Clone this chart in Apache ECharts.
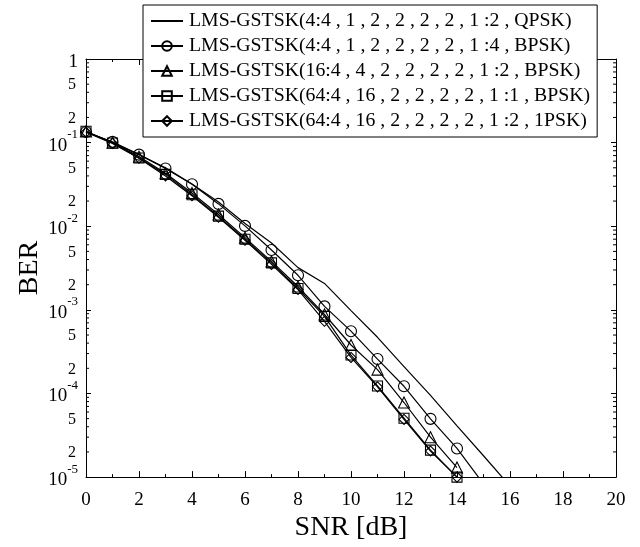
<!DOCTYPE html>
<html>
<head>
<meta charset="utf-8">
<style>
  html, body { margin: 0; padding: 0; background: #fff; }
  #chart { width: 640px; height: 547px; }
</style>
<script src="https://cdn.jsdelivr.net/npm/echarts@6/dist/echarts.min.js"></script>
</head>
<body>
<div id="chart"></div>
<script>
// SNR grid in dB
const snr = [0, 1, 2, 3, 4, 5, 6, 7, 8, 9, 10, 11, 12, 13, 14, 15, 16];

// Series names as shown in the legend
const names = [
  'LMS-GSTSK(4:4 , 1 , 2 , 2 , 2 , 2 , 1 :2 , QPSK)',
  'LMS-GSTSK(4:4 , 1 , 2 , 2 , 2 , 2 , 1 :4 , BPSK)',
  'LMS-GSTSK(16:4 , 4 , 2 , 2 , 2 , 2 , 1 :2 , BPSK)',
  'LMS-GSTSK(64:4 , 16 , 2 , 2 , 2 , 2 , 1 :1 , BPSK)',
  'LMS-GSTSK(64:4 , 16 , 2 , 2 , 2 , 2 , 1 :2 , 1PSK)'
];

// Bit error rate per SNR point
const berQpsk = [0.135, 0.1, 0.072, 0.05, 0.032, 0.0195, 0.0108, 0.0063, 0.0032, 0.00207, 0.00098, 0.00047, 0.00021, 0.000095, 0.000041, 0.000018, 0.0000078];
const berBpsk4 = [0.134, 0.102, 0.0718, 0.049, 0.0318, 0.0185, 0.0101, 0.0052, 0.00259, 0.0011, 0.000556, 0.000258, 0.000122, 0.0000497, 0.000022, 0.0000083];
const berBpsk16 = [0.136, 0.1, 0.068, 0.043, 0.025, 0.0138, 0.0073, 0.0038, 0.0019, 0.00088, 0.00038, 0.000193, 0.000078, 0.00003, 0.000013];
const berBpsk64 = [0.137, 0.099, 0.0656, 0.0417, 0.0238, 0.0132, 0.0070, 0.00365, 0.0018, 0.000836, 0.000288, 0.000123, 0.0000506, 0.000021, 0.00001];
const ber1psk64 = [0.133, 0.098, 0.065, 0.040, 0.0232, 0.0128, 0.0068, 0.0035, 0.00175, 0.00073, 0.00027, 0.00012, 0.000049, 0.0000205, 0.00001];

// Log-axis decades and the intermediate tick mantissas
const decades = [-5, -4, -3, -2, -1];
const minorMantissas = [2, 3, 4, 5, 6, 7, 8, 9];
const labelledMantissas = [2, 5];

const FONT = 'Liberation Serif';

function pairs(ys) {
  return ys.map((y, i) => [snr[i], y]);
}

const minorData = [];
decades.forEach(k => minorMantissas.forEach(m => minorData.push([0, m * Math.pow(10, k), m])));

function lineSeries(name, data, symbol) {
  return {
    name: name,
    type: 'line',
    data: pairs(data),
    symbol: symbol,
    symbolSize: symbol === 'circle' ? 11 : (symbol === 'triangle' ? 11 : 10),
    showSymbol: symbol !== 'none',
    clip: true,
    lineStyle: { color: '#000', width: 1.2 },
    itemStyle: { color: 'rgba(0,0,0,0)', borderColor: '#000', borderWidth: 1.1 },
    emphasis: { disabled: true },
    z: 3
  };
}

// legend entries; the plain line entry carries no marker
const legendData = names.map((n, i) => i === 0
  ? { name: n, itemStyle: { color: 'rgba(0,0,0,0)', borderColor: 'rgba(0,0,0,0)', borderWidth: 0 } }
  : { name: n });

const chart = echarts.init(document.getElementById('chart'), null, { renderer: 'canvas' });

const option = {
  backgroundColor: '#fff',
  animation: false,
  textStyle: { fontFamily: FONT },
  grid: { left: 86, right: 24, top: 59, bottom: 64, containLabel: false },
  legend: {
    data: legendData,
    orient: 'vertical',
    left: 143,
    top: 5,
    padding: [6, 7, 6, 7],
    itemGap: 5,
    itemWidth: 32,
    itemHeight: 12,
    backgroundColor: '#fff',
    borderColor: '#000',
    borderWidth: 1,
    borderRadius: 0,
    selectedMode: false,
    textStyle: { fontFamily: FONT, fontSize: 19.8, color: '#000', lineHeight: 20, padding: [0, 0, 0, 1] },
    z: 10
  },
  xAxis: [{
    type: 'value',
    min: 0, max: 20, interval: 2,
    name: 'SNR [dB]',
    nameLocation: 'middle',
    nameGap: 33,
    nameTextStyle: { fontFamily: FONT, fontSize: 28, color: '#000' },
    axisLine: { onZero: false, lineStyle: { color: '#000', width: 1 } },
    axisTick: { inside: true, length: 6, lineStyle: { color: '#000' } },
    minorTick: { show: true, splitNumber: 2, length: 3, lineStyle: { color: '#000' } },
    splitLine: { show: false },
    axisLabel: { fontFamily: FONT, fontSize: 19, color: '#000', margin: 13 }
  }, {
    type: 'value',
    position: 'top',
    min: 0, max: 20, interval: 2,
    axisLine: { onZero: false, lineStyle: { color: '#000', width: 1 } },
    axisTick: { inside: true, length: 6, lineStyle: { color: '#000' } },
    minorTick: { show: true, splitNumber: 2, length: 3, lineStyle: { color: '#000' } },
    splitLine: { show: false },
    axisLabel: { show: false }
  }],
  yAxis: [{
    type: 'log',
    logBase: 10,
    min: 1e-5, max: 1,
    name: 'BER',
    nameLocation: 'middle',
    nameGap: 42,
    nameMoveOverlap: false,
    nameRotate: 90,
    nameTextStyle: { fontFamily: FONT, fontSize: 28, color: '#000' },
    axisLine: { onZero: false, lineStyle: { color: '#000', width: 1 } },
    axisTick: { inside: true, length: 5, lineStyle: { color: '#000' } },
    splitLine: { show: false },
    axisLabel: {
      margin: 8,
      formatter: function (v) {
        const k = Math.round(Math.log10(v));
        if (k === 0) return '{b|1}';
        return '{b|10}{s|' + k + '}';
      },
      rich: {
        b: { fontFamily: FONT, fontSize: 19, color: '#000', padding: [6, 0, 0, 0] },
        s: { fontFamily: FONT, fontSize: 13, color: '#000', padding: [0, 0, 16, 0] }
      }
    }
  }, {
    type: 'log',
    logBase: 10,
    position: 'right',
    min: 1e-5, max: 1,
    axisLine: { onZero: false, lineStyle: { color: '#000', width: 1 } },
    axisTick: { inside: true, length: 5, lineStyle: { color: '#000' } },
    splitLine: { show: false },
    axisLabel: { show: false }
  }],
  series: [
    lineSeries(names[0], berQpsk, 'none'),
    lineSeries(names[1], berBpsk4, 'circle'),
    lineSeries(names[2], berBpsk16, 'triangle'),
    lineSeries(names[3], berBpsk64, 'rect'),
    lineSeries(names[4], ber1psk64, 'diamond'),
    {
      // intermediate log ticks on both vertical axes plus the 2 / 5 labels
      type: 'custom',
      silent: true,
      clip: false,
      z: 2,
      data: minorData,
      encode: { x: 0, y: 1 },
      renderItem: function (params, api) {
        const v = api.value(1);
        const m = api.value(2);
        const left = api.coord([0, v]);
        const right = api.coord([20, v]);
        const children = [
          { type: 'line', shape: { x1: left[0], y1: left[1], x2: left[0] + 3, y2: left[1] }, style: { stroke: '#000', lineWidth: 1 } },
          { type: 'line', shape: { x1: right[0] - 3, y1: right[1], x2: right[0], y2: right[1] }, style: { stroke: '#000', lineWidth: 1 } }
        ];
        if (labelledMantissas.indexOf(m) >= 0) {
          children.push({
            type: 'text',
            style: {
              x: left[0] - 10, y: left[1] + 1,
              text: String(m),
              fill: '#000',
              font: '16px "' + FONT + '"',
              align: 'right',
              verticalAlign: 'middle'
            }
          });
        }
        return { type: 'group', children: children };
      }
    }
  ]
};

chart.setOption(option);
</script>
</body>
</html>
